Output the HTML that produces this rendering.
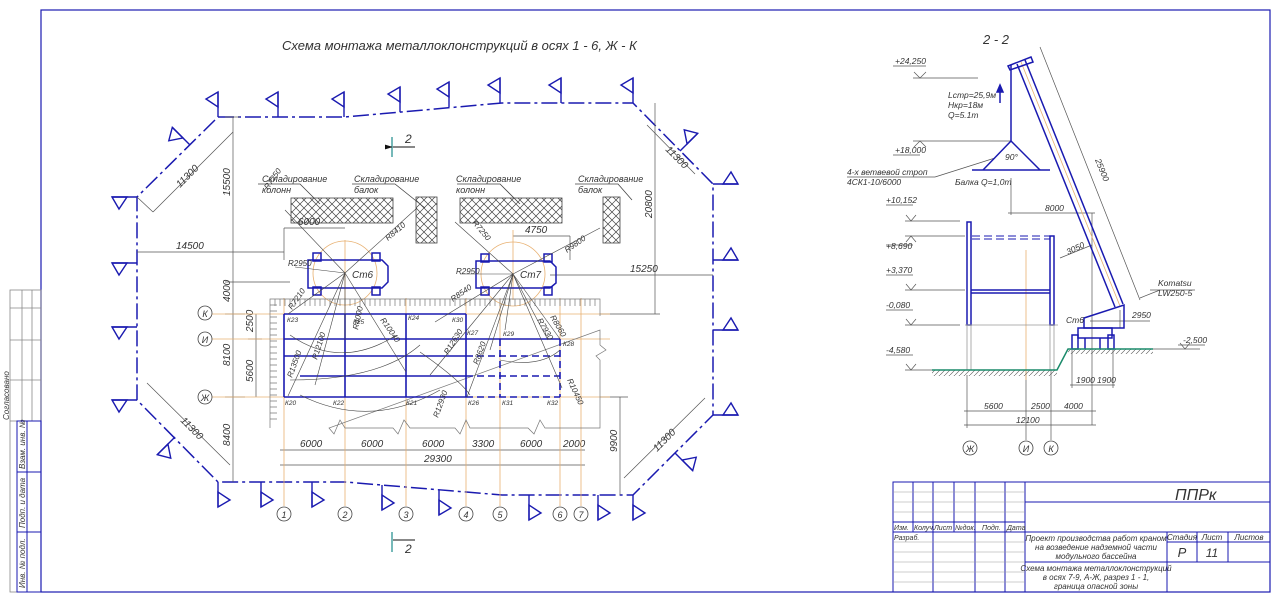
<!DOCTYPE html>
<html><head><meta charset="utf-8"><style>
html,body{margin:0;padding:0;background:#fff;}
svg{display:block;}
text{font-family:"Liberation Sans",sans-serif;font-style:italic;fill:#333;}
</style></head><body>
<svg width="1280" height="604" viewBox="0 0 1280 604" xmlns="http://www.w3.org/2000/svg">
<defs>
<pattern id="hx" width="8" height="8" patternUnits="userSpaceOnUse">
<path d="M0 0L8 8M8 0L0 8" stroke="#444" stroke-width="0.7"/>
</pattern>
<pattern id="gr" width="5" height="5" patternUnits="userSpaceOnUse">
<path d="M0 5L5 0" stroke="#555" stroke-width="0.6"/>
</pattern>
<g id="fl"><path d="M0 0L0 -25" stroke="#1a1ab0" stroke-width="1.4"/><path d="M0 -25L-12 -18L0 -10Z" fill="none" stroke="#1a1ab0" stroke-width="1.4"/></g>
<marker id="ar" viewBox="0 0 10 6" refX="10" refY="3" markerWidth="8" markerHeight="5" orient="auto"><path d="M0 0L10 3L0 6Z" fill="#111"/></marker>
</defs>
<rect width="1280" height="604" fill="#fff"/>
<!-- frames -->
<rect x="41" y="10" width="1229" height="582" fill="none" stroke="#1a1ab0" stroke-width="1.2"/>
<g stroke="#888" stroke-width="0.8" fill="none">
<rect x="10" y="290" width="31" height="302"/>
<line x1="22" y1="290" x2="22" y2="421"/><line x1="32" y1="290" x2="32" y2="421"/>
<line x1="10" y1="308" x2="41" y2="308"/><line x1="10" y1="340" x2="41" y2="340"/><line x1="10" y1="380" x2="41" y2="380"/>
<line x1="10" y1="421" x2="17" y2="421"/>
</g>
<g stroke="#1a1ab0" stroke-width="1" fill="none">
<rect x="17" y="421" width="24" height="171"/><line x1="27" y1="421" x2="27" y2="592"/>
<line x1="17" y1="472" x2="41" y2="472"/><line x1="17" y1="532" x2="41" y2="532"/>
</g>
<g font-size="8">
<text transform="translate(9,420) rotate(-90)">Согласовано</text>
<text transform="translate(25,469) rotate(-90)">Взам. инв. №</text>
<text transform="translate(25,528) rotate(-90)">Подп. и дата</text>
<text transform="translate(25,588) rotate(-90)">Инв. № подл.</text>
</g>

<text x="282" y="50" font-size="13">Схема монтажа металлоклонструкций в осях 1 - 6, Ж - К</text>

<!-- danger zone polygon -->
<path d="M218 117L345 117L502 103L633 103L713 184L713 415L633 495L502 495L345 482L218 482L137 400L137 197Z" fill="none" stroke="#1a1ab0" stroke-width="1.5" stroke-dasharray="16,4,3,4"/>
<g>
<use href="#fl" transform="translate(218,117)"/><use href="#fl" transform="translate(278,117)"/><use href="#fl" transform="translate(344,117)"/><use href="#fl" transform="translate(400,112)"/><use href="#fl" transform="translate(449,107)"/><use href="#fl" transform="translate(500,103)"/><use href="#fl" transform="translate(561,103)"/><use href="#fl" transform="translate(633,103)"/>
<use href="#fl" transform="translate(218,482) rotate(180)"/><use href="#fl" transform="translate(261,482) rotate(180)"/><use href="#fl" transform="translate(312,482) rotate(180)"/><use href="#fl" transform="translate(382,485) rotate(180)"/><use href="#fl" transform="translate(439,490) rotate(180)"/><use href="#fl" transform="translate(529,495) rotate(180)"/><use href="#fl" transform="translate(598,495) rotate(180)"/><use href="#fl" transform="translate(633,495) rotate(180)"/>
<use href="#fl" transform="translate(137,197) rotate(-90)"/><use href="#fl" transform="translate(137,263) rotate(-90)"/><use href="#fl" transform="translate(137,327) rotate(-90)"/><use href="#fl" transform="translate(137,400) rotate(-90)"/>
<use href="#fl" transform="translate(713,184) rotate(90)"/><use href="#fl" transform="translate(713,260) rotate(90)"/><use href="#fl" transform="translate(713,330) rotate(90)"/><use href="#fl" transform="translate(713,415) rotate(90)"/>
<use href="#fl" transform="translate(190,145) rotate(-45)"/><use href="#fl" transform="translate(680,151) rotate(45)"/><use href="#fl" transform="translate(175,437) rotate(-135)"/><use href="#fl" transform="translate(675,453) rotate(135)"/>
</g>

<!-- dimension lines plan -->
<g stroke="#555" stroke-width="0.7" fill="none">
<line x1="233" y1="117" x2="233" y2="482"/>
<line x1="225" y1="117" x2="240" y2="117"/><line x1="225" y1="282" x2="290" y2="282"/><line x1="225" y1="314" x2="245" y2="314"/><line x1="225" y1="397" x2="245" y2="397"/>
<line x1="256" y1="314" x2="256" y2="397"/><line x1="248" y1="339" x2="262" y2="339"/>
<line x1="655" y1="103" x2="655" y2="314"/><line x1="600" y1="314" x2="660" y2="314"/>
<line x1="620" y1="397" x2="620" y2="495"/><line x1="600" y1="397" x2="628" y2="397"/>
<line x1="137" y1="252" x2="284" y2="252"/>
<line x1="550" y1="275" x2="713" y2="275"/>
<line x1="284" y1="228" x2="345" y2="228"/><line x1="284" y1="228" x2="284" y2="260"/>
<line x1="513" y1="236" x2="570" y2="236"/><line x1="570" y1="236" x2="570" y2="260"/>
<line x1="280" y1="450" x2="585" y2="450"/><line x1="280" y1="465" x2="585" y2="465"/>
<line x1="153" y1="212" x2="233" y2="132"/><line x1="137" y1="197" x2="153" y2="212"/>
<line x1="647" y1="125" x2="695" y2="174"/>
<line x1="147" y1="383" x2="230" y2="465"/>
<line x1="705" y1="398" x2="624" y2="478"/>
</g>
<g font-size="10">
<text transform="translate(230,196) rotate(-90)">15500</text>
<text transform="translate(230,302) rotate(-90)">4000</text>
<text transform="translate(230,366) rotate(-90)">8100</text>
<text transform="translate(230,446) rotate(-90)">8400</text>
<text transform="translate(253,332) rotate(-90)">2500</text>
<text transform="translate(253,382) rotate(-90)">5600</text>
<text transform="translate(652,218) rotate(-90)">20800</text>
<text transform="translate(617,452) rotate(-90)">9900</text>
<text x="176" y="249">14500</text><text x="630" y="272">15250</text>
<text x="298" y="225">6000</text><text x="525" y="233">4750</text>
<text x="300" y="447">6000</text><text x="361" y="447">6000</text><text x="422" y="447">6000</text><text x="472" y="447">3300</text><text x="520" y="447">6000</text><text x="563" y="447">2000</text>
<text x="424" y="462">29300</text>
<text transform="translate(180,188) rotate(-45)">11300</text>
<text transform="translate(665,150) rotate(45)">11300</text>
<text transform="translate(180,421) rotate(45)">11300</text>
<text transform="translate(657,452) rotate(-45)">11300</text>
</g>

<!-- axes -->
<g stroke="#e8b070" stroke-width="0.8">
<line x1="212" y1="314" x2="610" y2="314"/><line x1="212" y1="339" x2="610" y2="339"/><line x1="212" y1="397" x2="610" y2="397"/>
<line x1="284" y1="298" x2="284" y2="506"/><line x1="345" y1="240" x2="345" y2="506"/><line x1="406" y1="298" x2="406" y2="506"/><line x1="466" y1="298" x2="466" y2="506"/><line x1="500" y1="298" x2="500" y2="506"/><line x1="560" y1="298" x2="560" y2="506"/><line x1="581" y1="298" x2="581" y2="506"/>
<line x1="513" y1="230" x2="513" y2="300"/>
</g>
<g fill="none" stroke="#e8b070" stroke-width="0.8"><circle cx="345" cy="273" r="32"/><circle cx="513" cy="274" r="32"/></g>
<g fill="#fff" stroke="#444" stroke-width="0.8" font-size="9">
<circle cx="205" cy="313" r="7"/><circle cx="205" cy="339" r="7"/><circle cx="205" cy="397" r="7"/>
<circle cx="284" cy="514" r="7"/><circle cx="345" cy="514" r="7"/><circle cx="406" cy="514" r="7"/><circle cx="466" cy="514" r="7"/><circle cx="500" cy="514" r="7"/><circle cx="560" cy="514" r="7"/><circle cx="581" cy="514" r="7"/>
</g>
<g font-size="9" text-anchor="middle">
<text x="205" y="317">К</text><text x="205" y="343">И</text><text x="205" y="401">Ж</text>
<text x="284" y="518">1</text><text x="345" y="518">2</text><text x="406" y="518">3</text><text x="466" y="518">4</text><text x="500" y="518">5</text><text x="560" y="518">6</text><text x="581" y="518">7</text>
</g>

<!-- ruler band -->
<g stroke="#777" stroke-width="0.7" fill="none">
<path d="M270 428L270 299L600 299L600 316M600 330L600 345L606 350L596 356L600 360L600 428L545 428L540 420L534 434L528 428L470 428L466 420L460 434L455 428L410 428L404 420L398 434L393 428L345 428L340 420L334 434L329 428Z"/>
<path d="M275 299V306M280 299V306M285 299V306M290 299V306M295 299V306M300 299V306M305 299V306M310 299V306M315 299V306M320 299V306M325 299V306M330 299V306M335 299V306M340 299V306M345 299V306M350 299V306M355 299V306M360 299V306M365 299V306M370 299V306M375 299V306M380 299V306M385 299V306M390 299V306M395 299V306M400 299V306M405 299V306M410 299V306M415 299V306M420 299V306M425 299V306M430 299V306M435 299V306M440 299V306M445 299V306M450 299V306M455 299V306M460 299V306M465 299V306M470 299V306M475 299V306M480 299V306M485 299V306M490 299V306M495 299V306M500 299V306M505 299V306M510 299V306M515 299V306M520 299V306M525 299V306M530 299V306M535 299V306M540 299V306M545 299V306M550 299V306M555 299V306M560 299V306M565 299V306M570 299V306M575 299V306M580 299V306M585 299V306M590 299V306M595 299V306"/>
<path d="M270 305H277M270 311H277M270 317H277M270 323H277M270 329H277M270 335H277M270 341H277M270 347H277M270 353H277M270 359H277M270 365H277M270 371H277M270 377H277M270 383H277M270 389H277M270 395H277M270 401H277M270 407H277M270 413H277M270 419H277"/>
</g>

<!-- frame members -->
<g stroke="#1a1ab0" stroke-width="1.6" fill="none">
<line x1="284" y1="314" x2="466" y2="314"/><line x1="284" y1="339" x2="560" y2="339"/><line x1="284" y1="356" x2="466" y2="356"/><line x1="300" y1="376" x2="466" y2="376"/><line x1="284" y1="397" x2="466" y2="397"/>
<line x1="284" y1="314" x2="284" y2="397"/><line x1="345" y1="314" x2="345" y2="397"/><line x1="406" y1="314" x2="406" y2="397"/><line x1="466" y1="314" x2="466" y2="397"/>
<g stroke-dasharray="7,4"><line x1="466" y1="356" x2="560" y2="356"/><line x1="466" y1="376" x2="560" y2="376"/><line x1="500" y1="339" x2="500" y2="397"/><line x1="560" y1="339" x2="560" y2="397"/><line x1="466" y1="397" x2="560" y2="397"/></g>
</g>
<g font-size="6.5"><text x="287" y="322">К23</text><text x="353" y="324">К25</text><text x="408" y="320">К24</text><text x="452" y="322">К30</text><text x="467" y="335">К27</text><text x="503" y="336">К29</text><text x="563" y="346">К28</text>
<text x="285" y="405">К20</text><text x="333" y="405">К22</text><text x="406" y="405">К21</text><text x="468" y="405">К26</text><text x="502" y="405">К31</text><text x="547" y="405">К32</text></g>

<!-- storage -->
<g stroke="#444" stroke-width="0.8">
<rect x="291" y="198" width="102" height="25" fill="url(#hx)"/><rect x="416" y="197" width="21" height="46" fill="url(#hx)"/>
<rect x="460" y="198" width="102" height="25" fill="url(#hx)"/><rect x="603" y="197" width="17" height="46" fill="url(#hx)"/>
<path d="M258 184H300L320 204M352 184H395L425 208M457 184H500L520 204M575 184H618L632 200" fill="none"/>
</g>
<g font-size="9"><text x="262" y="182">Складирование</text><text x="262" y="193">колонн</text><text x="354" y="182">Складирование</text><text x="354" y="193">балок</text>
<text x="456" y="182">Складирование</text><text x="456" y="193">колонн</text><text x="578" y="182">Складирование</text><text x="578" y="193">балок</text></g>

<!-- cranes -->
<g stroke="#1a1ab0" stroke-width="1.5" fill="none">
<path d="M308 260H382L388 266V282L382 288H308Z"/>
<rect x="313" y="253" width="8" height="8"/><rect x="372" y="253" width="8" height="8"/><rect x="313" y="287" width="8" height="8"/><rect x="372" y="287" width="8" height="8"/>
<path d="M476 261H550L556 267V283L550 288H476Z"/>
<rect x="481" y="254" width="8" height="8"/><rect x="544" y="254" width="8" height="8"/><rect x="481" y="287" width="8" height="8"/><rect x="544" y="287" width="8" height="8"/>
</g>
<g font-size="10"><text x="352" y="278">Ст6</text><text x="520" y="278">Ст7</text></g>
<!-- radial lines -->
<g stroke="#444" stroke-width="0.6" fill="none">
<line x1="345" y1="273" x2="285" y2="210"/><line x1="345" y1="273" x2="417" y2="208"/><line x1="345" y1="273" x2="295" y2="267"/><line x1="345" y1="273" x2="288" y2="314"/><line x1="345" y1="273" x2="345" y2="340"/><line x1="345" y1="273" x2="406" y2="372"/><line x1="345" y1="273" x2="288" y2="396"/><line x1="345" y1="273" x2="315" y2="385"/>
<line x1="513" y1="274" x2="455" y2="222"/><line x1="513" y1="274" x2="600" y2="228"/><line x1="513" y1="274" x2="460" y2="274"/><line x1="513" y1="274" x2="435" y2="322"/><line x1="513" y1="274" x2="490" y2="350"/><line x1="513" y1="274" x2="467" y2="397"/><line x1="513" y1="274" x2="505" y2="330"/><line x1="513" y1="274" x2="548" y2="340"/><line x1="513" y1="274" x2="560" y2="339"/><line x1="513" y1="274" x2="562" y2="388"/><line x1="513" y1="274" x2="430" y2="375"/>
<path d="M290 335Q340 370 395 336"/><path d="M300 395Q370 430 440 390"/><path d="M290 380Q380 380 420 345"/><path d="M500 360Q540 368 560 350"/><path d="M420 352Q460 380 470 395"/>
</g>
<g font-size="8" fill="#333">
<text transform="translate(268,190) rotate(-55)">R7250</text><text transform="translate(388,241) rotate(-40)">R8410</text><text x="288" y="266">R2950</text><text transform="translate(292,310) rotate(-55)">R7210</text>
<text transform="translate(358,330) rotate(-78)">R4000</text><text transform="translate(380,320) rotate(55)">R10040</text><text transform="translate(292,378) rotate(-70)">R13500</text><text transform="translate(317,360) rotate(-72)">R12100</text>
<text transform="translate(472,223) rotate(50)">R7250</text><text transform="translate(567,253) rotate(-35)">R9800</text><text x="456" y="274">R2950</text><text transform="translate(453,302) rotate(-35)">R8540</text>
<text transform="translate(448,355) rotate(-58)">R12630</text><text transform="translate(478,365) rotate(-70)">R8620</text><text transform="translate(537,320) rotate(60)">R7930</text><text transform="translate(550,317) rotate(60)">R8060</text><text transform="translate(567,380) rotate(65)">R10450</text><text transform="translate(438,418) rotate(-70)">R12930</text>
</g>
<!-- section marks -->
<g stroke="#1a8a8a" stroke-width="1.2"><line x1="392" y1="137" x2="392" y2="157"/><line x1="392" y1="532" x2="392" y2="552"/></g>
<g stroke="#111" stroke-width="1"><line x1="393" y1="147" x2="415" y2="147" marker-start="url(#ar)"/><line x1="393" y1="540" x2="415" y2="540"/></g>
<text x="405" y="143" font-size="12">2</text><text x="405" y="553" font-size="12">2</text>

<!-- SECTION 2-2 -->
<text x="983" y="44" font-size="13">2 - 2</text>
<g stroke="#555" stroke-width="0.7" fill="none">
<line x1="893" y1="66" x2="926" y2="66"/><line x1="913" y1="78" x2="978" y2="78"/><path d="M914 72L920 78L926 72"/>
<line x1="893" y1="155" x2="920" y2="155"/><line x1="913" y1="141" x2="1011" y2="141"/><path d="M914 147L920 141L926 147"/>
<line x1="886" y1="205" x2="913" y2="205"/><line x1="905" y1="221" x2="960" y2="221"/><path d="M906 215L911 221L916 215"/>
<line x1="886" y1="245" x2="913" y2="245"/><line x1="905" y1="236" x2="965" y2="236"/><path d="M906 242L911 236L916 242"/>
<line x1="886" y1="275" x2="913" y2="275"/><line x1="905" y1="290" x2="965" y2="290"/><path d="M906 284L911 290L916 284"/>
<line x1="886" y1="310" x2="913" y2="310"/><line x1="905" y1="325" x2="960" y2="325"/><path d="M906 319L911 325L916 319"/>
<line x1="886" y1="355" x2="913" y2="355"/><line x1="905" y1="370" x2="935" y2="370"/><path d="M906 364L911 370L916 364"/>
<line x1="1178" y1="345" x2="1205" y2="345"/><line x1="1150" y1="349" x2="1200" y2="349"/><path d="M1180 343L1185 349L1190 343"/>
<line x1="1011" y1="178" x2="1011" y2="215"/><line x1="1008" y1="213" x2="1095" y2="213"/>
<line x1="1092" y1="213" x2="1092" y2="425"/>
<line x1="1060" y1="258" x2="1092" y2="245"/>
<line x1="1040" y1="47" x2="1140" y2="300"/>
<line x1="967" y1="375" x2="967" y2="428"/><line x1="1026" y1="370" x2="1026" y2="440"/><line x1="1051" y1="370" x2="1051" y2="440"/>
<line x1="964" y1="411" x2="1096" y2="411"/><line x1="964" y1="425" x2="1096" y2="425"/>
<line x1="1070" y1="385" x2="1115" y2="385"/><line x1="1072" y1="350" x2="1072" y2="388"/><line x1="1113" y1="350" x2="1113" y2="388"/>
<line x1="1090" y1="321" x2="1150" y2="321"/><line x1="1120" y1="310" x2="1120" y2="328"/>
<line x1="935" y1="177" x2="995" y2="158"/><line x1="847" y1="177" x2="935" y2="177"/>
<line x1="1140" y1="298" x2="1160" y2="290"/><line x1="1150" y1="290" x2="1195" y2="290"/>
</g>
<g stroke="#e8b070" stroke-width="0.8"><line x1="1026" y1="250" x2="1026" y2="380"/><line x1="1021" y1="62" x2="1120" y2="306"/></g>
<g stroke="#1a1ab0" stroke-width="1.5" fill="none">
<line x1="1011" y1="65" x2="1011" y2="141"/><path d="M1008 66L1031 57L1033 62L1010 70Z"/>
<line x1="1017" y1="64" x2="1115" y2="307"/><line x1="1025" y1="60" x2="1123" y2="304"/>
<path d="M1011 141L983 170M1011 141L1040 170"/><line x1="972" y1="170" x2="1050" y2="170"/>
<line x1="1000" y1="103" x2="1000" y2="88"/><path d="M997 92L1000 85L1003 92Z" fill="#1a1ab0"/>
<rect x="967" y="222" width="4" height="103"/><rect x="1050" y="236" width="4" height="89"/>
<line x1="971" y1="290" x2="1050" y2="290"/><line x1="971" y1="293" x2="1050" y2="293"/>
<path d="M1084 318L1124 305L1124 328L1084 328Z"/><rect x="1078" y="328" width="34" height="10"/>
<rect x="1072" y="335" width="6" height="14"/><rect x="1108" y="335" width="6" height="14"/><line x1="1085" y1="338" x2="1085" y2="349"/><line x1="1100" y1="338" x2="1100" y2="349"/>
</g>
<g stroke="#1a1ab0" stroke-width="1" stroke-dasharray="8,4"><line x1="972" y1="236" x2="1050" y2="236"/><line x1="972" y1="239" x2="1050" y2="239"/></g>
<g stroke="#999" stroke-width="0.8" fill="none"><rect x="967" y="325" width="4" height="45"/><rect x="1050" y="325" width="4" height="45"/><line x1="965" y1="325" x2="1058" y2="325"/></g>
<rect x="932" y="370" width="125" height="6" fill="url(#gr)"/><rect x="1068" y="349" width="85" height="5" fill="url(#gr)"/>
<path d="M932 370H1057L1068 349H1153" fill="none" stroke="#1a8a6a" stroke-width="1.5"/>
<g font-size="8.5">
<text x="895" y="64">+24,250</text><text x="895" y="153">+18,000</text><text x="886" y="203">+10,152</text><text x="886" y="249">+8,690</text><text x="886" y="273">+3,370</text><text x="886" y="308">-0,080</text><text x="886" y="353">-4,580</text><text x="1183" y="343">-2,500</text>
<text x="948" y="98">Lстр=25,9м</text><text x="948" y="108">Hкр=18м</text><text x="948" y="118">Q=5.1m</text>
<text x="1005" y="160">90°</text>
<text x="847" y="175">4-х ветвевой строп</text><text x="847" y="185">4СК1-10/6000</text>
<text x="955" y="185">Балка Q=1,0m</text>
<text x="1045" y="211">8000</text>
<text transform="translate(1068,255) rotate(-25)">3050</text>
<text transform="translate(1095,160) rotate(68)">25900</text>
<text x="1158" y="286">Komatsu</text><text x="1158" y="296">LW250-5</text>
<text x="1066" y="323">Ст6</text><text x="1132" y="318">2950</text>
<text x="1076" y="383">1900</text><text x="1097" y="383">1900</text>
<text x="984" y="409">5600</text><text x="1031" y="409">2500</text><text x="1064" y="409">4000</text><text x="1016" y="423">12100</text>
</g>
<g fill="#fff" stroke="#444" stroke-width="0.8"><circle cx="970" cy="448" r="7"/><circle cx="1026" cy="448" r="7"/><circle cx="1051" cy="448" r="7"/></g>
<g font-size="9" text-anchor="middle"><text x="970" y="452">Ж</text><text x="1026" y="452">И</text><text x="1051" y="452">К</text></g>

<!-- title block -->
<g stroke="#1a1ab0" stroke-width="1" fill="none">
<rect x="893" y="482" width="377" height="110"/>
<line x1="913" y1="482" x2="913" y2="532"/><line x1="933" y1="482" x2="933" y2="592"/><line x1="954" y1="482" x2="954" y2="532"/><line x1="975" y1="482" x2="975" y2="592"/><line x1="1005" y1="482" x2="1005" y2="592"/><line x1="1025" y1="482" x2="1025" y2="592"/>
<line x1="893" y1="522" x2="1025" y2="522"/><line x1="893" y1="532" x2="1270" y2="532"/><line x1="1025" y1="502" x2="1270" y2="502"/>
<line x1="1167" y1="532" x2="1167" y2="592"/><line x1="1197" y1="532" x2="1197" y2="562"/><line x1="1228" y1="532" x2="1228" y2="562"/>
<line x1="1167" y1="542" x2="1270" y2="542"/><line x1="1025" y1="562" x2="1270" y2="562"/>
</g>
<g stroke="#999" stroke-width="0.6"><line x1="893" y1="492" x2="1025" y2="492"/><line x1="893" y1="502" x2="1025" y2="502"/><line x1="893" y1="512" x2="1025" y2="512"/><line x1="893" y1="542" x2="1025" y2="542"/><line x1="893" y1="552" x2="1025" y2="552"/><line x1="893" y1="562" x2="1025" y2="562"/><line x1="893" y1="572" x2="1025" y2="572"/><line x1="893" y1="582" x2="1025" y2="582"/></g>
<g font-size="7"><text x="894" y="530">Изм.</text><text x="914" y="530">Колуч.</text><text x="934" y="530">Лист</text><text x="955" y="530">№док.</text><text x="982" y="530">Подп.</text><text x="1007" y="530">Дата</text><text x="894" y="540">Разраб.</text></g>
<text x="1175" y="500" font-size="16">ППРк</text>
<g font-size="8" text-anchor="middle"><text x="1096" y="541">Проект производства работ краном</text><text x="1096" y="550">на возведение надземной части</text><text x="1096" y="559">модульного бассейна</text>
<text x="1096" y="571">Схема монтажа металлоклонструкций</text><text x="1096" y="580">в осях 7-9, А-Ж, разрез 1 - 1,</text><text x="1096" y="589">граница опасной зоны</text>
<text x="1182" y="540">Стадия</text><text x="1212" y="540">Лист</text><text x="1249" y="540">Листов</text></g>
<text x="1182" y="557" font-size="13" text-anchor="middle">Р</text><text x="1212" y="557" font-size="12" text-anchor="middle">11</text>
</svg>
</body></html>
